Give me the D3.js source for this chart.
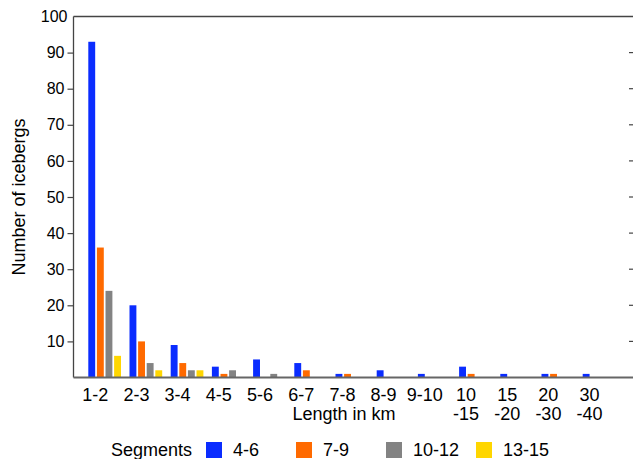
<!DOCTYPE html>
<html>
<head>
<meta charset="utf-8">
<script src="https://cdn.jsdelivr.net/npm/d3@7"></script>
<style>
  html, body { margin: 0; padding: 0; background: #fff; }
  svg { display: block; font-family: "Liberation Sans", Arial, Helvetica, sans-serif; }
</style>
</head>
<body>
<div id="chart"></div>
<script>
// 長度區間 (km)
const categories = ["1-2", "2-3", "3-4", "4-5", "5-6", "6-7", "7-8", "8-9", "9-10", "10-15", "15-20", "20-30", "30-40"];
const tickLabels = [["1-2"], ["2-3"], ["3-4"], ["4-5"], ["5-6"], ["6-7"], ["7-8"], ["8-9"], ["9-10"], ["10", "-15"], ["15", "-20"], ["20", "-30"], ["30", "-40"]];
const segments = ["4-6", "7-9", "10-12", "13-15"];
const seg4to6   = [93, 20, 9, 3, 5, 4, 1, 2, 1, 3, 1, 1, 1];
const seg7to9   = [36, 10, 4, 1, 0, 2, 1, 0, 0, 1, 0, 1, 0];
const seg10to12 = [24, 4, 2, 2, 1, 0, 0, 0, 0, 0, 0, 0, 0];
const seg13to15 = [6, 2, 2, 0, 0, 0, 0, 0, 0, 0, 0, 0, 0];
const yTicks = [10, 20, 30, 40, 50, 60, 70, 80, 90, 100];
const colors = ["#0a2cff", "#ff6a00", "#838383", "#ffd600"];

const seriesValues = [seg4to6, seg7to9, seg10to12, seg13to15];

const W = 633, H = 459;
const frame = { left: 73.5, right: 634, top: 16.5, bottom: 377.5 };

const svg = d3.select("#chart").append("svg")
  .attr("width", W).attr("height", H);

const y = d3.scaleLinear().domain([0, 100]).range([frame.bottom, frame.top]);
const x = d3.scaleBand().domain(categories).range([84.7, 620.3]);
const inner = d3.scaleBand().domain(segments).range([3.6, 36.3]).paddingInner(0.2);

// 長條
const groups = svg.append("g")
  .selectAll("g")
  .data(categories)
  .enter()
  .append("g")
  .attr("transform", d => `translate(${x(d)},0)`);

groups.selectAll("rect")
  .data((c, i) => segments.map((s, k) => ({ seg: s, k, value: seriesValues[k][i] })))
  .enter()
  .filter(d => d.value > 0)
  .append("rect")
  .attr("x", d => inner(d.seg))
  .attr("y", d => y(d.value))
  .attr("width", inner.bandwidth())
  .attr("height", d => y(0) - y(d.value))
  .attr("fill", d => colors[d.k]);

// 邊框
svg.append("line").attr("x1", frame.left).attr("x2", frame.right)
  .attr("y1", frame.top).attr("y2", frame.top)
  .attr("stroke", "#444").attr("stroke-width", 1.3);
svg.append("line").attr("x1", frame.left).attr("x2", frame.left)
  .attr("y1", frame.top).attr("y2", frame.bottom)
  .attr("stroke", "#444").attr("stroke-width", 1.3);
svg.append("line").attr("x1", frame.left).attr("x2", frame.right)
  .attr("y1", frame.bottom).attr("y2", frame.bottom)
  .attr("stroke", "#666").attr("stroke-width", 2);

// 左側 y 軸
const yAxis = svg.append("g")
  .attr("transform", `translate(${frame.left},0)`)
  .call(d3.axisLeft(y).tickValues(yTicks).tickSize(6).tickPadding(3));
yAxis.select(".domain").remove();
yAxis.selectAll(".tick line").attr("stroke", "#444").attr("stroke-width", 1.2);
yAxis.selectAll(".tick text")
  .attr("fill", "#000")
  .attr("font-size", 16)
  .attr("font-family", "Liberation Sans, Arial, sans-serif");
yAxis.selectAll(".tick").filter(d => d === 100).select("line").remove();
yAxis.selectAll(".tick").filter(d => d === 100).select("text").attr("x", -6);

// 右側刻度 (向內)
svg.append("g")
  .selectAll("line")
  .data(yTicks.filter(d => d < 100))
  .enter()
  .append("line")
  .attr("x1", frame.right - 5).attr("x2", frame.right)
  .attr("y1", d => y(d)).attr("y2", d => y(d))
  .attr("stroke", "#444").attr("stroke-width", 1.2);

// x 軸標籤
const xl = svg.append("g")
  .selectAll("text")
  .data(categories)
  .enter()
  .append("text")
  .attr("x", (d, i) => x(d) + inner(segments[0]) + inner.bandwidth())
  .attr("y", 401)
  .attr("text-anchor", "middle")
  .attr("font-size", 18)
  .attr("fill", "#000");

xl.selectAll("tspan")
  .data((d, i) => tickLabels[i])
  .enter()
  .append("tspan")
  .attr("x", function() { return d3.select(this.parentNode).attr("x"); })
  .attr("dy", (d, j) => j === 0 ? 0 : 19)
  .text(d => d);

svg.append("text")
  .attr("x", 344).attr("y", 420)
  .attr("text-anchor", "middle")
  .attr("font-size", 18)
  .text("Length in km");

svg.append("text")
  .attr("transform", `translate(25,${(frame.top + frame.bottom) / 2}) rotate(-90)`)
  .attr("text-anchor", "middle")
  .attr("font-size", 18)
  .text("Number of icebergs");

// 圖例
const legend = svg.append("g");
legend.append("text")
  .attr("x", 111).attr("y", 456)
  .attr("font-size", 18)
  .text("Segments");

const item = legend.selectAll("g.item")
  .data(segments)
  .enter()
  .append("g")
  .attr("class", "item")
  .attr("transform", (d, i) => `translate(${206 + i * 90},442)`);

item.append("rect")
  .attr("width", 16).attr("height", 16)
  .attr("fill", (d, i) => colors[i]);

item.append("text")
  .attr("x", 27).attr("y", 14)
  .attr("font-size", 18)
  .text(d => d);
</script>
</body>
</html>
